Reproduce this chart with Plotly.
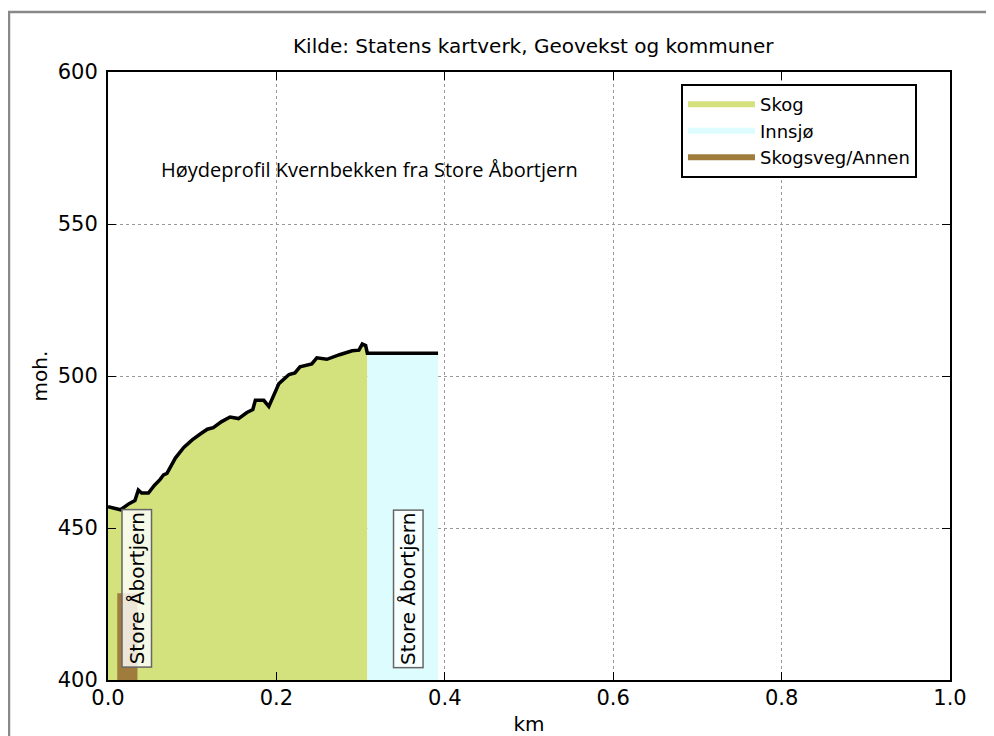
"""Høydeprofil Kvernbekken, recreated with Plotly."""

import plotly.graph_objects as go

# profile along the stream, km from Store Åbortjern and metres above sea level
forest_km = [0.000, 0.010, 0.015, 0.025, 0.032, 0.036, 0.040, 0.048, 0.055, 0.062,
             0.066, 0.070, 0.080, 0.090, 0.100, 0.110, 0.118, 0.125, 0.135, 0.145,
             0.155, 0.165, 0.172, 0.175, 0.185, 0.191, 0.197, 0.203, 0.215, 0.222,
             0.228, 0.242, 0.248, 0.260, 0.275, 0.290, 0.298, 0.302, 0.306, 0.308]
forest_moh = [457.0, 456.5, 456.0, 458.0, 459.0, 462.5, 461.5, 461.5, 464.0, 466.0,
              467.5, 468.0, 473.0, 476.5, 479.0, 481.0, 482.5, 483.0, 485.0, 486.5,
              486.0, 488.0, 489.0, 492.0, 492.0, 490.0, 494.0, 497.5, 500.5, 501.0,
              503.0, 504.0, 506.0, 505.5, 507.0, 508.3, 508.5, 510.5, 510.0, 507.5]

lake_km = [0.308, 0.392]
lake_moh = [507.5, 507.5]

road_km = [0.011, 0.035]
road_moh = [428.5, 428.5]

label_km = [0.0345, 0.357]
label_moh = [430, 430]
label_text = ["Store Åbortjern", "Store Åbortjern"]

FOREST = "#d3e27c"
LAKE = "#ddfcfd"
ROAD = "#a07c3c"

fig = go.Figure()
for xs, ys, colour, name in (
    (forest_km, forest_moh, FOREST, "Skog"),
    (lake_km, lake_moh, LAKE, "Innsjø"),
    (road_km, road_moh, ROAD, "Skogsveg/Annen"),
):
    fig.add_trace(go.Scatter(
        x=xs, y=ys, fill="tozeroy", mode="none", fillcolor=colour, name=name,
    ))
fig.add_trace(go.Scatter(
    x=forest_km + lake_km[1:], y=forest_moh + lake_moh[1:], mode="lines",
    line=dict(color="black", width=3.5), showlegend=False, hoverinfo="skip",
))

for km, moh, txt in zip(label_km, label_moh, label_text):
    fig.add_annotation(
        x=km, y=moh, text=txt, textangle=-90, showarrow=False,
        font=dict(family="DejaVu Sans", size=20, color="black"),
        bgcolor="rgba(255,255,255,0.8)", bordercolor="#666666",
        borderwidth=1.5, borderpad=2,
    )

fig.add_annotation(
    x=0.311, y=567.8, text="Høydeprofil Kvernbekken fra Store Åbortjern",
    showarrow=False, font=dict(family="Open Sans", size=20, color="black"),
)

# grey outer frame of the original screenshot
fig.add_shape(
    type="rect", xref="paper", yref="paper",
    x0=-0.1176, x1=1.2, y0=-0.3, y1=1.0987,
    line=dict(color="#888888", width=2.5), layer="below",
)

axis_common = dict(
    showline=True, linecolor="black", linewidth=2, mirror="allticks",
    ticks="inside", ticklen=8, tickwidth=1, tickcolor="black",
    showgrid=True, gridcolor="#999999", griddash="dot", gridwidth=1,
    zeroline=False, tickfont=dict(family="DejaVu Sans", size=21, color="black"),
    layer="above traces", automargin=False,
)

fig.update_xaxes(
    range=[0, 1], tickvals=[0, 0.2, 0.4, 0.6, 0.8, 1.0], tickformat=".1f",
    title=dict(text="km", font=dict(family="DejaVu Sans", size=20, color="black"),
               standoff=30),
    ticklabelstandoff=-2,
    **axis_common,
)
fig.update_yaxes(
    range=[400, 600], tickvals=[400, 450, 500, 550, 600],
    title=dict(text="moh.", font=dict(family="DejaVu Sans", size=20, color="black"),
               standoff=5),
    ticklabelstandoff=4,
    **axis_common,
)

# the page body keeps its 8 px margin, so the figure is 8 px smaller each way
fig.update_layout(
    width=986, height=728,
    margin=dict(l=100, r=44, t=64, b=56),
    paper_bgcolor="white", plot_bgcolor="white",
    title=dict(
        text="Kilde: Statens kartverk, Geovekst og kommuner",
        x=0.5327, xanchor="center", y=1 - 38 / 728, yanchor="middle",
        font=dict(family="DejaVu Sans", size=20, color="black"),
    ),
    legend=dict(
        x=0.6805, y=0.98, xanchor="left", yanchor="top",
        bgcolor="white", bordercolor="black", borderwidth=2,
        font=dict(family="DejaVu Sans", size=18, color="black"),
        itemwidth=67, tracegroupgap=0,
    ),
    showlegend=True,
)

fig.write_html("out.html")
